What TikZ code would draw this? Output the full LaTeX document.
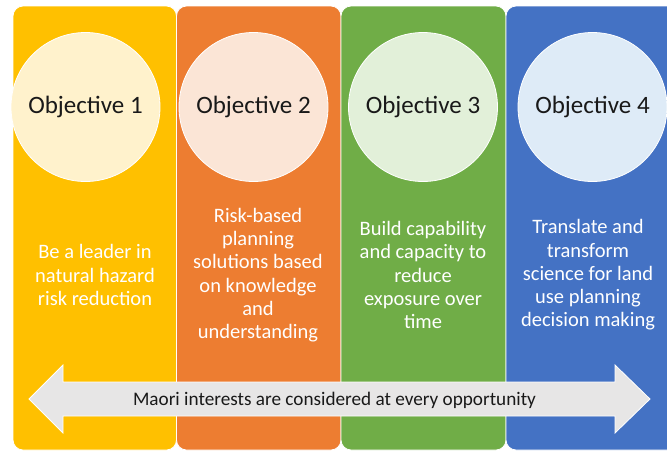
\documentclass[tikz,border=0pt]{standalone}
\usepackage{fontspec}
\setmainfont{Carlito}
\usepackage{tikz}
\usetikzlibrary{arrows.meta, calc}
\definecolor{colyellow}{HTML}{FFC000}
\definecolor{colorange}{HTML}{ED7D31}
\definecolor{colgreen}{HTML}{70AD47}
\definecolor{colblue}{HTML}{4472C4}
\definecolor{lightyellow}{HTML}{FFF2CC}
\definecolor{lightorange}{HTML}{FBE5D6}
\definecolor{lightgreen}{HTML}{E2F0D9}
\definecolor{lightblue}{HTML}{DEEBF7}
\definecolor{arrowgrey}{HTML}{E7E6E6}
\tikzset{
  column/.style={draw=white, line width=0.8pt, rounded corners=10pt},
  objective/.style={circle, draw=white, line width=0.8pt, minimum size=149pt,
    inner sep=0pt, text=black!90, font=\fontsize{25}{30}\selectfont},
  aim/.style={align=center, text=white, inner sep=0pt,
    font=\fontsize{20.5}{23.3}\selectfont}
}

\begin{document}
\begin{tikzpicture}[x=1pt, y=-1pt]
            \useasboundingbox (0,0) rectangle (667,451);
            % columns
            \draw[column, fill=colyellow] (13,6) rectangle (176.5,450);
            \draw[column, fill=colorange] (176.5,6) rectangle (341,450);
            \draw[column, fill=colgreen] (341,6) rectangle (506,450);
            \draw[column, fill=colblue] (506,6) rectangle (677,450);
            % objectives
            \node[objective, fill=lightyellow] (obj1) at (85.5,107) {Objective 1};
            \node[objective, fill=lightorange] (obj2) at (253.5,107) {Objective 2};
            \node[objective, fill=lightgreen] (obj3) at (423,107) {Objective 3};
            \node[objective, fill=lightblue] (obj4) at (592.5,107) {Objective 4};
            % aims
            \node[aim] (aim1) at (95,275) {Be a leader in\\natural hazard\\risk reduction};
            \node[aim] (aim2) at (258,275) {Risk-based\\planning\\solutions based\\on knowledge\\and\\understanding};
            \node[aim] (aim3) at (423,275) {Build capability\\and capacity to\\reduce\\exposure over\\time};
            \node[aim] (aim4) at (588,275) {Translate and\\transform\\science for land\\use planning\\decision making};
            % arrow
            \draw[draw=white, line width=0.8pt, fill=arrowgrey]
                (29,399) -- (63,365) -- (63,382) -- (615,382) -- (615,365)
                -- (650,399) -- (615,433) -- (615,416) -- (63,416) -- (63,433) -- cycle;
            \node[text=black!90, font=\fontsize{19.2}{22}\selectfont] (maori) at (334.5,400)
                {Maori interests are considered at every opportunity};
        \end{tikzpicture}
\end{document}
